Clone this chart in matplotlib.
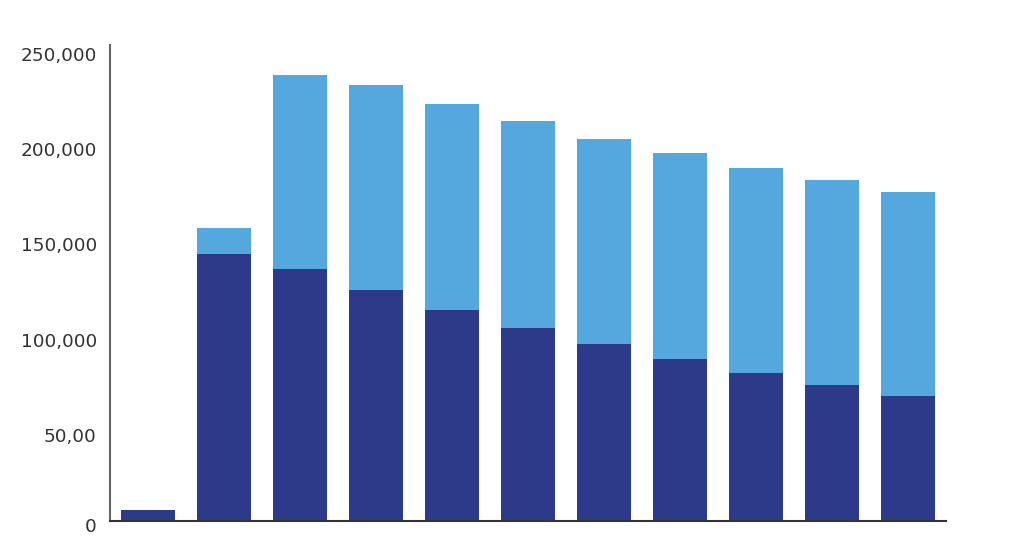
import numpy as np
import matplotlib
matplotlib.use("Agg")
import matplotlib.pyplot as plt
from matplotlib.transforms import ScaledTranslation

# values (two stacked series)
categories = list(range(11))
dark_values = [6000, 140000, 132400, 121300, 110900, 101600, 93000, 85100, 77800, 71400, 65400]
totals = [6000, 154000, 234100, 229000, 218900, 209900, 200800, 193100, 185500, 178900, 172900]
light_values = [t - d for t, d in zip(totals, dark_values)]
tick_values = [0, 50000, 100000, 150000, 200000, 250000]
tick_labels = ["0", "50,00", "100,000", "150,000", "200,000", "250,000"]

dark_color = "#2D3A8A"
light_color = "#55A8DD"

fig = plt.figure(figsize=(10.24, 5.36), dpi=100)
ax = fig.add_axes([0.1074, 0.028, 0.8164, 0.888])

x = np.arange(len(categories))
ax.bar(x, dark_values, width=0.72, color=dark_color, linewidth=0)
ax.bar(x, light_values, bottom=dark_values, width=0.72, color=light_color, linewidth=0)

ax.set_xlim(-0.5, 10.5)
ax.set_ylim(0, 250000)
ax.set_xticks([])
ax.set_yticks(tick_values)
ax.set_yticklabels(tick_labels, fontsize=13.3, color="#333333")
ax.tick_params(axis="y", length=0, pad=9.5)

# labels sit a little below their gridline level, as in the reference
for lab in ax.get_yticklabels():
    dy = -0.04 if lab.get_text() == "0" else -0.09
    lab.set_transform(lab.get_transform() + ScaledTranslation(0, dy, fig.dpi_scale_trans))

for side in ["top", "right"]:
    ax.spines[side].set_visible(False)
ax.spines["left"].set_color("#666666")
ax.spines["left"].set_linewidth(1.5)
ax.spines["bottom"].set_color("#333333")
ax.spines["bottom"].set_linewidth(1.5)

fig.savefig("out.png", dpi=100)
